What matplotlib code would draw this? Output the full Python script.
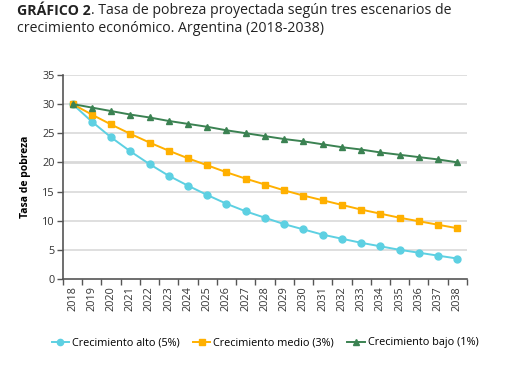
import matplotlib
matplotlib.use("Agg")
import matplotlib.pyplot as plt
import numpy as np

years = [str(y) for y in range(2018, 2039)]
alto = [30.0, 27.0, 24.3, 21.9, 19.7, 17.7, 16.0, 14.4, 12.9, 11.6, 10.5, 9.4, 8.5, 7.6, 6.9, 6.2, 5.6, 5.0, 4.5, 4.0, 3.5]
medio = [30.0, 28.2, 26.5, 24.9, 23.4, 22.0, 20.7, 19.5, 18.3, 17.2, 16.2, 15.2, 14.3, 13.5, 12.7, 11.9, 11.2, 10.5, 9.9, 9.3, 8.7]
bajo = [30.0, 29.4, 28.8, 28.2, 27.7, 27.1, 26.6, 26.1, 25.5, 25.0, 24.5, 24.0, 23.6, 23.1, 22.6, 22.2, 21.7, 21.3, 20.9, 20.5, 20.0]
labels = ["Crecimiento alto (5%)", "Crecimiento medio (3%)", "Crecimiento bajo (1%)"]
yticks = [0, 5, 10, 15, 20, 25, 30, 35]

plt.rcParams['font.family'] = ['Open Sans', 'DejaVu Sans']

fig = plt.figure(figsize=(5.2, 3.69), dpi=100)
ax = fig.add_axes([0.121, 0.244, 0.777, 0.553])

x = np.arange(len(years))
c_alto, c_medio, c_bajo = '#5DD0E2', '#FFB000', '#3B8252'
ax.plot(x, alto, color=c_alto, marker='o', markersize=5, lw=1.4, label=labels[0])
ax.plot(x, medio, color=c_medio, marker='s', markersize=5, lw=1.4, label=labels[1])
ax.plot(x, bajo, color=c_bajo, marker='^', markersize=5, lw=1.4, label=labels[2])

ax.set_xlim(-0.5, len(years) - 0.5)
ax.set_ylim(0, 35)
ax.set_yticks(yticks)
ax.set_yticklabels([str(v) for v in yticks], fontsize=7.8, color='#333333')
ax.set_xticks(x)
ax.set_xticklabels(years, rotation=90, fontsize=7.8, color='#333333')
ax.tick_params(axis='x', length=0, pad=5)
ax.set_xticks(np.arange(-0.5, len(years)), minor=True)
ax.tick_params(axis='x', which='minor', length=4, color='#555555', width=1)
ax.tick_params(axis='y', length=4, color='#555555', width=1, pad=2)

for v in yticks[1:]:
    ax.axhline(v, color='#d9d9d9', lw=1.2 if v != 20 else 2.0, zorder=0)

for s in ['top', 'right']:
    ax.spines[s].set_visible(False)
ax.spines['left'].set_color('#555555')
ax.spines['bottom'].set_color('#555555')
ax.spines['left'].set_linewidth(1.2)
ax.spines['bottom'].set_linewidth(1.2)

ax.set_ylabel('Tasa de pobreza', fontsize=7.5, fontweight='bold', labelpad=8)

fig.legend(loc='center', bbox_to_anchor=(265/520, 1 - 343/369), ncol=3, frameon=False,
           fontsize=7.8, handlelength=1.6, handletextpad=0.3, columnspacing=1.2,
           markerscale=0.9)

# Title
fs = 10.2
t1 = fig.text(17/520, 1 - 11/369, 'GRÁFICO 2', fontsize=fs, fontweight='bold', va='center', ha='left', color='#222222')
fig.canvas.draw()
r = fig.canvas.get_renderer()
bb = t1.get_window_extent(r)
x2 = bb.x1 / fig.bbox.width
fig.text(x2, 1 - 11/369, '. Tasa de pobreza proyectada según tres escenarios de', fontsize=fs, va='center', ha='left', color='#222222')
fig.text(17/520, 1 - 29/369, 'crecimiento económico. Argentina (2018-2038)', fontsize=fs, va='center', ha='left', color='#222222')

fig.savefig('out.png', dpi=100)
